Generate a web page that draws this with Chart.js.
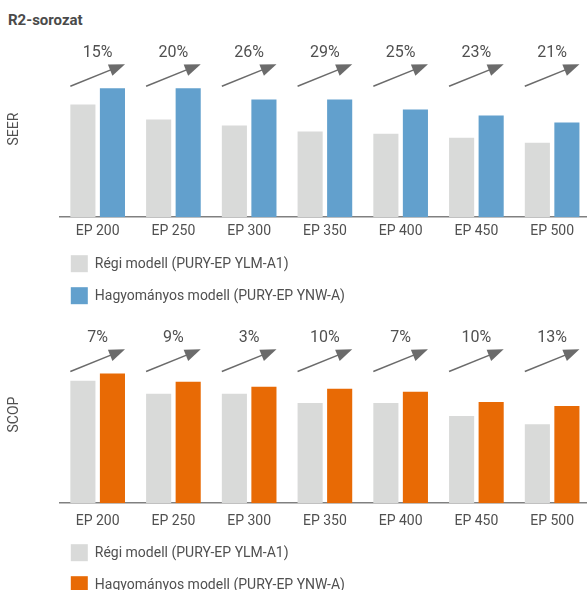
<!DOCTYPE html>
<html><head><meta charset="utf-8">
<script src="https://cdn.jsdelivr.net/npm/chart.js@4"></script>
<style>
html,body{margin:0;padding:0;background:#fff;overflow:hidden;width:587px;height:590px}
#title{position:absolute;left:8px;top:11px;font:bold 15px Roboto,sans-serif;color:#4a4a4a;line-height:18px}
.wrap{position:absolute;left:0;width:590px}
</style></head><body>
<div id="title">R2-sorozat</div>
<div class="wrap" style="top:0;height:310px"><canvas id="c1"></canvas></div>
<div class="wrap" style="top:310px;height:280px"><canvas id="c2"></canvas></div>
<script>
// ---- data ----
const categories = ['EP 200','EP 250','EP 300','EP 350','EP 400','EP 450','EP 500'];
const seriesOld = 'Régi modell (PURY-EP YLM-A1)';
const seriesNew = 'Hagyományos modell (PURY-EP YNW-A)';
const seerOld = [112, 97, 91, 85, 83, 79, 74];
const seerNew = [128, 128, 117, 117, 107, 101, 94];
const seerGain = [15, 20, 26, 29, 25, 23, 21];
const scopOld = [121, 108, 108, 99, 99, 86, 78];
const scopNew = [128, 120, 115, 113, 110, 100, 96];
const scopGain = [7, 9, 3, 10, 7, 10, 13];

const FONT = "Roboto, sans-serif";
const TEXT = '#505050';
const GREY = '#d9dad9';

const arrowPlugin = {
  id: 'gainArrows',
  afterDatasetsDraw(chart, args, o) {
    const ctx = chart.ctx, y = chart.scales.y;
    const m0 = chart.getDatasetMeta(0), m1 = chart.getDatasetMeta(1);
    const ys = y.getPixelForValue(130), yt = y.getPixelForValue(152), yl = y.getPixelForValue(163);
    ctx.save();
    m0.data.forEach((b0, i) => {
      const b1 = m1.data[i];
      const x0 = b0.x - b0.width / 2, x1 = b1.x + b1.width / 2;
      const ang = Math.atan2(yt - ys, x1 - x0);
      const hl = 16, hw = 12;
      const bx = x1 - hl * Math.cos(ang), by = yt - hl * Math.sin(ang);
      ctx.strokeStyle = '#6b6b6b'; ctx.fillStyle = '#6b6b6b'; ctx.lineWidth = 1.5;
      ctx.beginPath(); ctx.moveTo(x0, ys); ctx.lineTo(bx + 2 * Math.cos(ang), by + 2 * Math.sin(ang)); ctx.stroke();
      const px = -Math.sin(ang) * hw / 2, py = Math.cos(ang) * hw / 2;
      ctx.beginPath(); ctx.moveTo(x1, yt); ctx.lineTo(bx + px, by + py); ctx.lineTo(bx - px, by - py); ctx.closePath(); ctx.fill();
      ctx.fillStyle = TEXT; ctx.font = '16px ' + FONT; ctx.textAlign = 'center'; ctx.textBaseline = 'middle';
      ctx.fillText(o.gains[i] + '%', (b0.x + b1.x) / 2, yl);
    });
    ctx.restore();
  },
  afterDraw(chart, args, o) {
    const ctx = chart.ctx, a = chart.chartArea;
    ctx.save();
    ctx.font = '14px ' + FONT; ctx.textBaseline = 'middle'; ctx.textAlign = 'left';
    chart.data.datasets.forEach((ds, i) => {
      const top = a.bottom + o.legendTop + i * 32;
      ctx.fillStyle = ds.backgroundColor;
      ctx.fillRect(a.left + 11, top, 17, 17);
      ctx.fillStyle = TEXT;
      ctx.fillText(ds.label, a.left + 35, top + 9);
    });
    ctx.restore();
  }
};

function makeChart(id, yTitle, oldVals, newVals, gains, newColor, padTop, padBottom, tickPad, legendTop) {
  return new Chart(document.getElementById(id), {
    type: 'bar',
    data: {
      labels: categories,
      datasets: [
        { label: seriesOld, data: oldVals, backgroundColor: GREY },
        { label: seriesNew, data: newVals, backgroundColor: newColor }
      ]
    },
    options: {
      responsive: true, maintainAspectRatio: false, animation: false,
      categoryPercentage: 0.78, barPercentage: 0.85,
      layout: { padding: { top: padTop, bottom: padBottom, left: 0, right: 0 } },
      plugins: { legend: { display: false }, tooltip: { enabled: false },
        gainArrows: { gains: gains, legendTop: legendTop } },
      scales: {
        x: {
          grid: { display: false, drawTicks: false },
          border: { display: true, color: '#808080', width: 1.5 },
          ticks: { color: TEXT, font: { family: FONT, size: 14 }, padding: tickPad, maxRotation: 0 }
        },
        y: {
          min: 0, max: 175,
          grid: { display: false, drawTicks: false },
          border: { display: false },
          ticks: { display: false },
          title: { display: true, text: yTitle, color: TEXT, font: { family: FONT, size: 14 }, padding: { top: 6, bottom: 37 } }
        }
      }
    },
    plugins: [arrowPlugin]
  });
}

makeChart('c1', 'SEER', seerOld, seerNew, seerGain, '#62a0cd', 41, 64, 6, 38);
makeChart('c2', 'SCOP', scopOld, scopNew, scopGain, '#e86a05', 16, 50, 10, 41);
</script>
</body></html>
